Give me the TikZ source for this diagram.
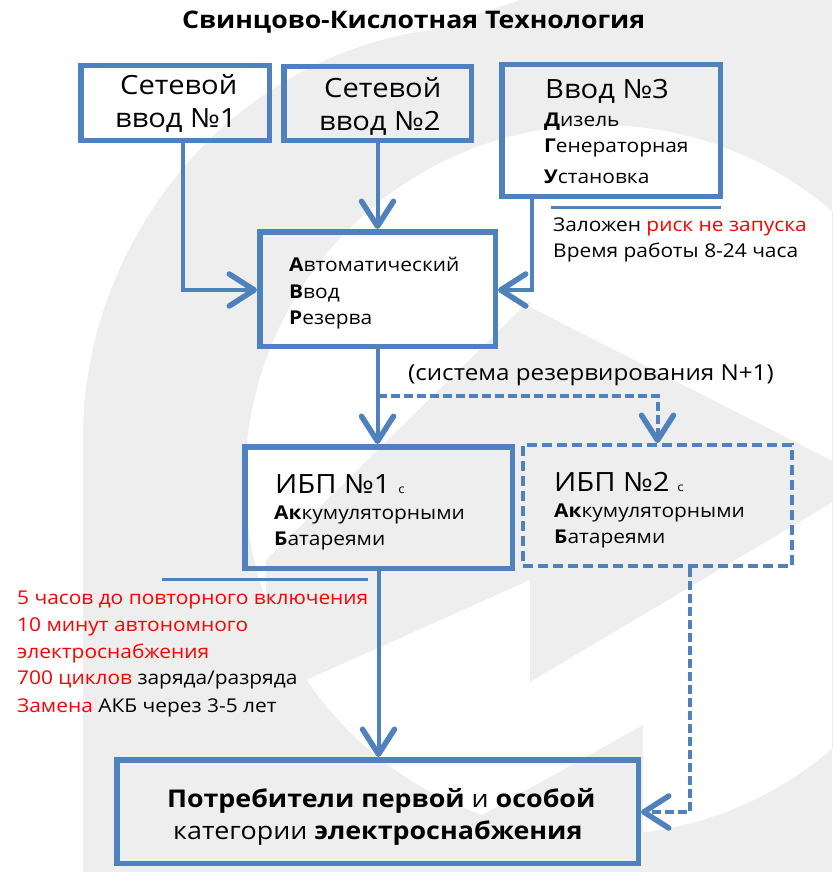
\documentclass[tikz,border=0pt]{standalone}
\usepackage{fontspec}
\setmainfont{Open Sans}[FakeStretch=1.1]
\usetikzlibrary{arrows.meta,calc}
\definecolor{boxblue}{HTML}{4F81BD}
\definecolor{bggray}{HTML}{EEEEEE}
\definecolor{redtxt}{HTML}{FF0000}
\newcommand\szTitle{\fontsize{24.2}{28}\selectfont}
\newcommand\szBig{\fontsize{26.5}{30}\selectfont}
\newcommand\szCons{\fontsize{24.4}{28}\selectfont}
\newcommand\szMid{\fontsize{19}{22}\selectfont}
\newcommand\szNote{\fontsize{19}{22}\selectfont}
\newcommand\szSys{\fontsize{22}{26}\selectfont}
\newcommand\szTiny{\fontsize{12}{12}\selectfont}
\begin{document}
\begin{tikzpicture}[x=1pt,y=-1pt,
  box/.style={draw=boxblue, line width=5.5pt, inner sep=0pt},
  dbox/.style={draw=boxblue, line width=4pt, dash pattern=on 10pt off 5pt, inner sep=0pt},
  txt/.style={anchor=base west, inner sep=0pt},
  conn/.style={draw=boxblue, line width=4pt, -{Straight Barb[length=25pt,width=32pt,line width=5.5pt,round]}},
  dconn/.style={conn, dash pattern=on 9pt off 4pt},
  rulel/.style={draw=boxblue, line width=3pt}]
\useasboundingbox (0,0) rectangle (832,872);
% background logo
\fill[bggray, even odd rule] (83,872) -- (83,436) .. controls (83,250) and (220,60) .. (430,30) -- (520,0) -- (832,0) -- (832,872) -- cycle
  (600,480) circle [radius=355];
\fill[bggray] (530,307) -- (870,480) -- (530,682) -- cycle;
\fill[bggray] (380,872) -- (643,725) -- (643,872) -- cycle;
\fill[bggray] (266,560) -- (530,300) -- (530,580) -- (266,698) -- cycle;

% title
\node[txt] (title) at (182,29) {\szTitle\bfseries Свинцово-Кислотная Технология};

% boxes
\node[box, minimum width=188.5pt, minimum height=74.5pt] (b1) at (175,103) {};
\node[box, minimum width=187.5pt, minimum height=73.5pt] (b2) at (377.5,103.5) {};
\node[box, minimum width=218.5pt, minimum height=131.5pt] (b3) at (611,130.5) {};
\node[box, minimum width=235.5pt, minimum height=114.5pt] (ats) at (377.5,289) {};
\node[box, minimum width=267.5pt, minimum height=121.5pt] (ibp1) at (378.5,507.5) {};
\node[dbox, minimum width=269pt, minimum height=121pt] (ibp2) at (657.5,505.5) {};
\node[box, minimum width=521.5pt, minimum height=103.5pt] (cons) at (377.5,811.5) {};

% box texts
\node[txt] (t1a) at (120,95) {\szBig Сетевой};
\node[txt] (t1b) at (115,128) {\szBig ввод №1};
\node[txt] (t2a) at (324,98) {\szBig Сетевой};
\node[txt] (t2b) at (319,131) {\szBig ввод №2};
\node[txt] (t3a) at (545,99) {\szBig Ввод №3};
\node[txt] (t3b) at (544,127) {\szMid{\bfseries Д}изель};
\node[txt] (t3c) at (544,153) {\szMid{\bfseries Г}енераторная};
\node[txt] (t3d) at (544,183) {\szMid{\bfseries У}становка};
\node[txt] (ta) at (289,271) {\szMid{\bfseries А}втоматический};
\node[txt] (tb) at (289,298) {\szMid{\bfseries В}вод};
\node[txt] (tc) at (289,324) {\szMid{\bfseries Р}езерва};
\node[txt] (i1a) at (275,493) {\szBig ИБП №1\hspace{8pt}{\szTiny с}};
\node[txt] (i1b) at (274,519) {\szMid{\bfseries Ак}кумуляторными};
\node[txt] (i1c) at (274,545) {\szMid{\bfseries Б}атареями};
\node[txt] (i2a) at (554,491) {\szBig ИБП №2\hspace{8pt}{\szTiny с}};
\node[txt] (i2b) at (554,517) {\szMid{\bfseries Ак}кумуляторными};
\node[txt] (i2c) at (554,543) {\szMid{\bfseries Б}атареями};
\node[txt] (c1) at (167,807) {\szCons{\bfseries Потребители первой} и {\bfseries особой}};
\node[txt] (c2) at (173,839) {\szCons категории {\bfseries электроснабжения}};

% notes
\draw[rulel] (551,207) -- (721,207);
\node[txt] (n1) at (553,231) {\szNote Заложен \textcolor{redtxt}{риск не запуска}};
\node[txt] (n2) at (553,257) {\szNote Время работы 8-24 часа};
\node[txt] (n3) at (408,380) {\szSys (система резервирования N+1)};
\draw[rulel] (162,579) -- (368,579);
\node[txt] (r1) at (17,604) {\szNote\color{redtxt}5 часов до повторного включения};
\node[txt] (r2) at (17,631) {\szNote\color{redtxt}10 минут автономного};
\node[txt] (r3) at (17,658) {\szNote\color{redtxt}электроснабжения};
\node[txt] (r4) at (17,684) {\szNote\textcolor{redtxt}{700 циклов} заряда/разряда};
\node[txt] (r5) at (17,712) {\szNote\textcolor{redtxt}{Замена} АКБ через 3-5 лет};

% connectors
\coordinate (j1) at (183,290);
\coordinate (j3) at (532,290);
\coordinate (d1) at (377.5,396);
\coordinate (d2) at (657.5,396);
\coordinate (d3) at (690,812);
\draw[conn] (b1.south -| j1) -- (j1) -- (ats.west |- j1);
\draw[conn] (b2.south) -- (ats.north);
\draw[conn] (b3.south -| j3) -- (j3) -- (ats.east |- j3);
\draw[conn] (ats.south) -- (ats.south |- ibp1.north);
\draw[dconn] (d1) -- (d2) -- (ibp2.north);
\draw[conn] (ibp1.south) -- (ibp1.south |- cons.north);
\draw[dconn] (ibp2.south -| d3) -- (d3) -- (cons.east |- d3);
\end{tikzpicture}
\end{document}
